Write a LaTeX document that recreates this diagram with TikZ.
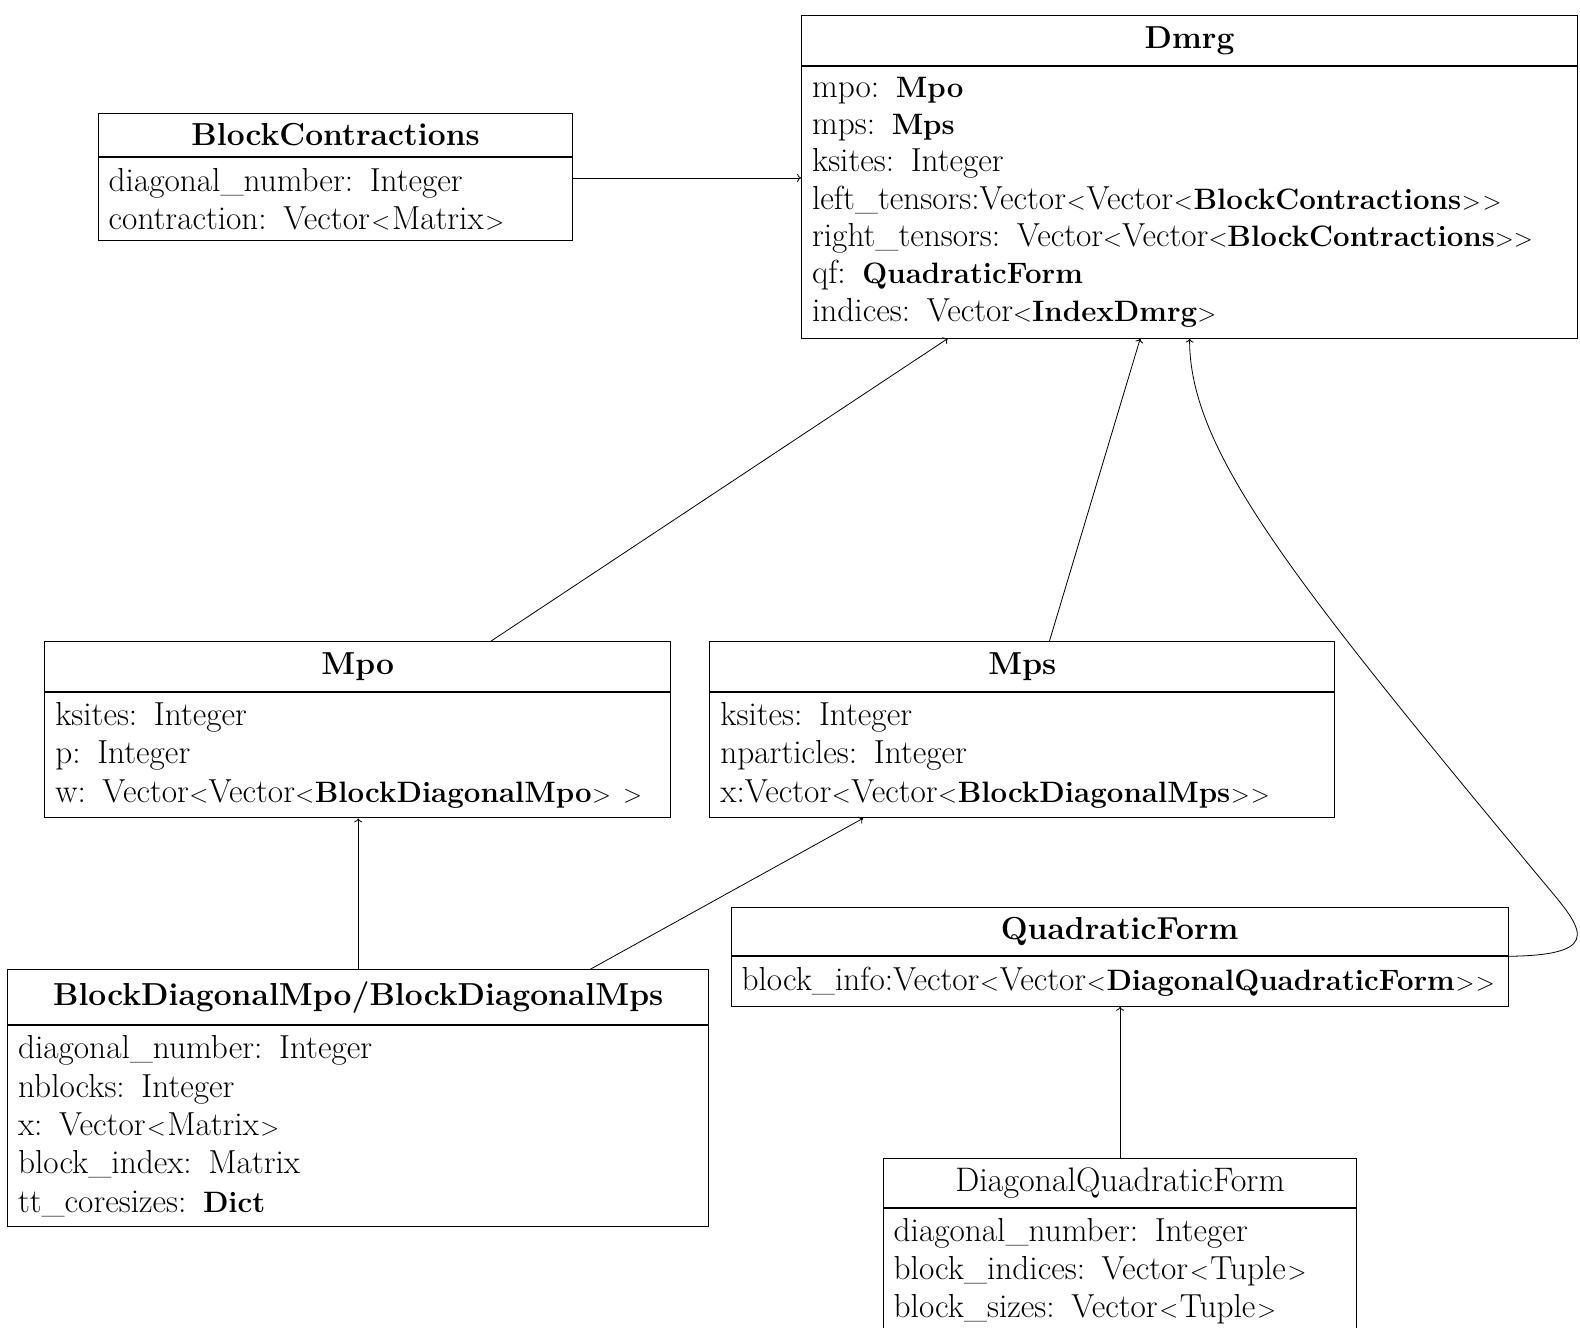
\documentclass[tikz,border=0pt]{standalone}
\usetikzlibrary{arrows.meta}
\newcommand\bodyfnt{\fontsize{33.3}{38.3}\selectfont}
\newcommand\dmrgfnt{\fontsize{33.3}{37.3}\selectfont}
\newcommand\ttlfnt{\fontsize{31.8}{36}\selectfont\bfseries}
\newcommand\ttlrfnt{\fontsize{34}{38}\selectfont}
\newcommand\bb[1]{{\fontsize{29.5}{36}\selectfont\bfseries #1}}
\newcommand\lt[1][0]{$\mkern#1mu<\mkern#1mu$}
\newcommand\gt[1][0]{$\mkern#1mu>\mkern#1mu$}
\tikzset{
  ttl/.style={draw, line width=1pt, anchor=north west, inner xsep=0pt, inner ysep=0pt, align=center, font=\ttlfnt},
  body/.style={draw, line width=1pt, anchor=north west, inner xsep=10.5pt, inner ysep=0pt, align=left, font=\bodyfnt},
  conn/.style={line width=0.8pt, -{To[length=4pt,width=8pt]}}
}
\begin{document}
\begin{tikzpicture}[x=1pt,y=-1pt]
\useasboundingbox (0,0) rectangle (1580,1328);
% Dmrg
\node[ttl, minimum width=776pt, minimum height=49.4pt] (dmrgT) at (801.1,15.1) {Dmrg};
\node[body, font=\dmrgfnt, text width=755pt, minimum height=272.1pt] (dmrgB) at (dmrgT.south west)
 {mpo: \bb{Mpo}\\
  mps: \bb{Mps}\\
  ksites: Integer\\
  \mbox{left\_tensors:Vector\lt[0.6]Vector\lt[0.6]\bb{BlockContractions}\gt[0.6]\gt[0.6]}\\
  \mbox{right\_tensors: Vector\lt Vector\lt\bb{BlockContractions}\gt\gt}\\
  qf: \bb{QuadraticForm}\\
  indices: Vector\lt\bb{IndexDmrg}\gt};
% BlockContractions
\node[ttl, minimum width=474.7pt, minimum height=43.3pt] (bcT) at (97.7,112.9) {BlockContractions};
\node[body, text width=453.7pt, minimum height=82.6pt] (bcB) at (bcT.south west)
 {diagonal\_number: Integer\\
  contraction: Vector\lt[1.2]Matrix\gt[1.2]};
% Mpo
\node[ttl, minimum width=625.8pt, minimum height=50.4pt] (mpoT) at (44.3,640.9) {Mpo};
\node[body, text width=604.8pt, minimum height=125pt] (mpoB) at (mpoT.south west)
 {ksites: Integer\\
  p: Integer\\
  \mbox{w: Vector\lt[0.3]Vector\lt[0.3]\bb{BlockDiagonalMpo}\gt[0.3] \gt[0.3]}};
% Mps
\node[ttl, minimum width=624.8pt, minimum height=50.4pt] (mpsT) at (709.4,640.9) {Mps};
\node[body, text width=603.8pt, minimum height=125pt] (mpsB) at (mpsT.south west)
 {ksites: Integer\\
  nparticles: Integer\\
  \mbox{x:Vector\lt[0.4]Vector\lt[0.4]\bb{BlockDiagonalMps}\gt[0.4]\gt[0.4]}};
% BlockDiagonalMpo/Mps
\node[ttl, minimum width=701.3pt, minimum height=54.5pt] (bdmT) at (7.05,969.4) {BlockDiagonalMpo/BlockDiagonalMps};
\node[body, text width=680.3pt, minimum height=201.5pt] (bdmB) at (bdmT.south west)
 {diagonal\_number: Integer\\
  nblocks: Integer\\
  x: Vector\lt[1]Matrix\gt[1]\\
  block\_index: Matrix\\
  tt\_coresizes: \bb{Dict}};
% QuadraticForm
\node[ttl, minimum width=777pt, minimum height=48.3pt] (qfT) at (730.6,907) {QuadraticForm};
\node[body, text width=756pt, minimum height=49.4pt] (qfB) at (qfT.south west)
 {\mbox{block\_info:Vector\lt[0.5]Vector\lt[0.5]\bb{DiagonalQuadraticForm}\gt[0.5]\gt[0.5]}};
% DiagonalQuadraticForm
\node[ttl, font=\ttlrfnt, minimum width=473.7pt, minimum height=49.4pt] (dqfT) at (882.7,1157.8) {DiagonalQuadraticForm};
\node[body, text width=452.7pt, minimum height=125pt] (dqfB) at (dqfT.south west)
 {diagonal\_number: Integer\\
  block\_indices: Vector\lt[1.2]Tuple\gt[1.2]\\
  block\_sizes: Vector\lt[1.2]Tuple\gt[1.2]};
% connectors
\coordinate (bcA) at ([yshift=21.1pt]bcB.east);
\draw[conn] (bcA) -- (bcA -| dmrgB.west);
\draw[conn] ([xshift=133.6pt]mpoT.north) -- ([xshift=-241.9pt]dmrgB.south);
\draw[conn] ([xshift=27.2pt]mpsT.north) -- ([xshift=-49.4pt]dmrgB.south);
\draw[conn] (qfT.south east) .. controls (1610,955) and (1580,926) .. (1540,878)
  .. controls (1291,578) and (1189,450) .. (dmrgB.south);
\draw[conn] (bdmT.north) -- (bdmT.north |- mpoB.south);
\draw[conn] ([xshift=231.8pt]bdmT.north) -- ([xshift=-159.2pt]mpsB.south);
\draw[conn] (dqfT.north) -- (dqfT.north |- qfB.south);
\end{tikzpicture}
\end{document}
